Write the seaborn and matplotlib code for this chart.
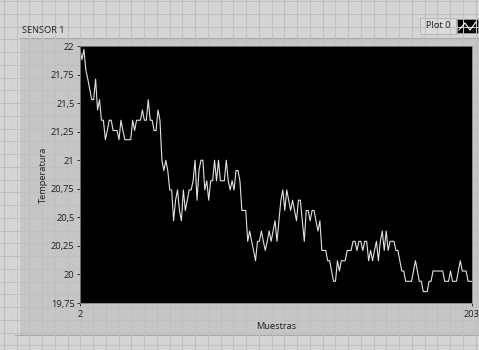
import numpy as np
import pandas as pd
import matplotlib
matplotlib.use("Agg")
import matplotlib.pyplot as plt
from matplotlib.patches import Rectangle
from matplotlib.lines import Line2D
import seaborn as sns

# Sensor readings (°C), one per sample
temperatura = [
    21.97, 21.88, 21.97, 21.79, 21.71, 21.62, 21.53, 21.53, 21.71, 21.44,
    21.53, 21.35, 21.35, 21.18, 21.26, 21.35, 21.35, 21.26, 21.26, 21.26,
    21.18, 21.35, 21.26, 21.18, 21.18, 21.18, 21.18, 21.35, 21.26, 21.35,
    21.35, 21.35, 21.44, 21.35, 21.35, 21.53, 21.35, 21.35, 21.26, 21.26,
    21.44, 21.35, 21.00, 20.91, 21.00, 20.91, 20.74, 20.74, 20.47, 20.65,
    20.74, 20.56, 20.47, 20.74, 20.56, 20.65, 20.74, 20.74, 20.82, 21.00,
    20.65, 20.91, 21.00, 21.00, 20.74, 20.82, 20.65, 20.82, 20.82, 21.00,
    20.82, 21.00, 20.82, 20.82, 20.82, 21.00, 20.82, 20.74, 20.82, 20.74,
    20.91, 20.91, 20.82, 20.56, 20.56, 20.56, 20.29, 20.38, 20.29, 20.21,
    20.12, 20.29, 20.29, 20.38, 20.29, 20.21, 20.29, 20.38, 20.29, 20.38,
    20.47, 20.29, 20.47, 20.65, 20.74, 20.56, 20.74, 20.65, 20.56, 20.65,
    20.56, 20.47, 20.65, 20.65, 20.47, 20.29, 20.56, 20.56, 20.47, 20.56,
    20.56, 20.47, 20.38, 20.47, 20.21, 20.21, 20.21, 20.12, 20.12, 20.03,
    19.94, 19.94, 20.12, 20.03, 20.12, 20.12, 20.12, 20.21, 20.21, 20.21,
    20.29, 20.29, 20.21, 20.29, 20.29, 20.21, 20.29, 20.29, 20.12, 20.21,
    20.12, 20.21, 20.29, 20.12, 20.29, 20.38, 20.21, 20.38, 20.21, 20.29,
    20.29, 20.29, 20.21, 20.21, 20.12, 20.03, 20.03, 19.94, 19.94, 19.94,
    19.94, 20.03, 20.12, 20.03, 19.94, 19.94, 19.85, 19.85, 19.85, 19.94,
    19.94, 20.03, 20.03, 20.03, 20.03, 20.03, 20.03, 19.94, 19.94, 19.94,
    20.03, 19.94, 19.94, 19.94, 20.03, 20.12, 20.03, 20.03, 20.03, 19.94,
    19.94, 19.94,
]
muestras = list(range(2, 2 + len(temperatura)))

y_ticks = [22, 21.75, 21.5, 21.25, 21, 20.75, 20.5, 20.25, 20, 19.75]
y_tick_labels = ["22", "21,75", "21,5", "21,25", "21", "20,75", "20,5",
                 "20,25", "20", "19,75"]
x_ticks = [2, 203]
x_tick_labels = ["2", "203"]

df = pd.DataFrame({"Muestras": muestras, "Temperatura": temperatura})

plt.rcParams["font.family"] = ["Open Sans", "DejaVu Sans"]
W, H = 479, 350
FS = 6.7
TXT = "#1e1e1e"
fig = plt.figure(figsize=(W / 100, H / 100), dpi=100)
fig.patch.set_facecolor("#d5d5d5")

# Front-panel grid background
bg = fig.add_axes([0, 0, 1, 1])
bg.set_xlim(0, W)
bg.set_ylim(H, 0)
bg.axis("off")
for gx in np.arange(4, W, 12.75):
    bg.add_line(Line2D([gx, gx], [0, H], color="#c0c0c0", lw=0.8))
for gy in np.arange(1, H, 12.75):
    bg.add_line(Line2D([0, W], [gy, gy], color="#c0c0c0", lw=0.8))

# Chart frame
bg.add_patch(Rectangle((15, 38), W - 15, 297, facecolor="#c6c6c6",
                       edgecolor="#a8a8a8", lw=0.8))
bg.add_patch(Rectangle((15, 38), 5, 297, facecolor="#dadada", lw=0))
bg.text(22, 33, "SENSOR 1", fontsize=FS, color=TXT, va="baseline")

# Legend plate
bg.add_patch(Rectangle((420, 18), 36, 16, facecolor="#dcdcdc",
                       edgecolor="#b0b0b0", lw=0.6))
bg.text(438, 26, "Plot 0", fontsize=FS, color=TXT,
        ha="center", va="center")
bg.add_patch(Rectangle((457, 19), 21, 14, facecolor="black",
                       edgecolor="#9a9a9a", lw=0.6))
bg.add_line(Line2D([459, 465, 470, 476], [30, 23, 30, 22],
                   color="white", lw=0.8))

# Plot area
ax = fig.add_axes([80 / W, (H - 303) / H, 392 / W, 257 / H])
ax.set_facecolor("black")
sns.lineplot(data=df, x="Muestras", y="Temperatura", ax=ax,
             color="#e2e2e2", linewidth=0.8)
ax.set_xlim(2, 203)
ax.set_ylim(19.75, 22)
ax.set_yticks(y_ticks)
ax.set_yticklabels(y_tick_labels)
ax.set_xticks(x_ticks)
ax.set_xticklabels(x_tick_labels)
ax.tick_params(axis="both", direction="out", length=2.5, width=0.7,
               color="#303030", labelsize=FS, labelcolor=TXT, pad=1.5)
ax.tick_params(axis="x", pad=2.5)
for s in ax.spines.values():
    s.set_color("#808080")
    s.set_linewidth(0.6)
ax.set_xlabel("Muestras", fontsize=FS, color=TXT)
ax.set_ylabel("Temperatura", fontsize=FS, color=TXT)
ax.xaxis.set_label_coords(0.5, -0.072)
ax.yaxis.set_label_coords(-0.083, 0.5)
ax.grid(False)

fig.savefig("out.png", dpi=100, facecolor=fig.get_facecolor())
